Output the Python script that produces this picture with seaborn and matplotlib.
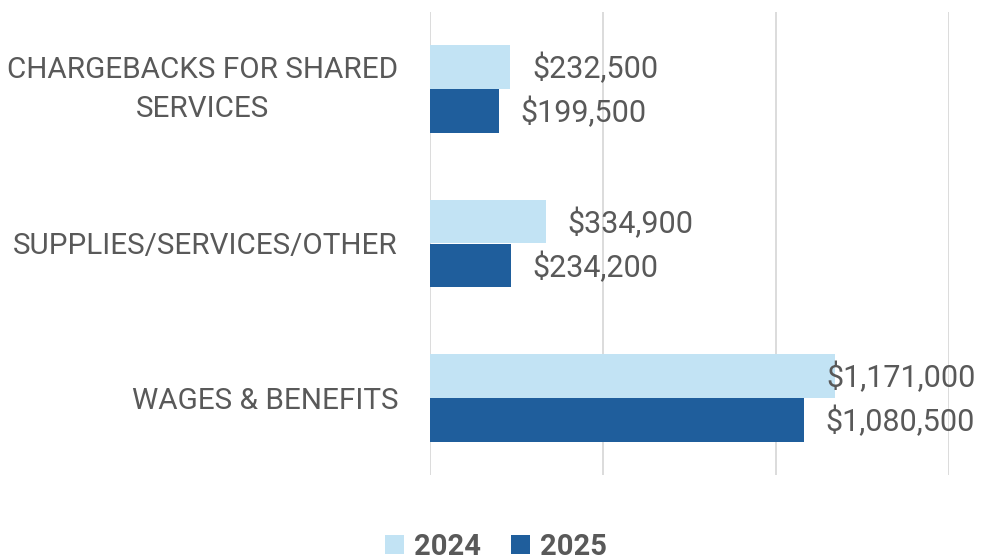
import matplotlib
matplotlib.use("Agg")
import matplotlib.pyplot as plt
import seaborn as sns
import pandas as pd
from matplotlib.patches import Patch

categories = ["CHARGEBACKS FOR SHARED\nSERVICES", "SUPPLIES/SERVICES/OTHER", "WAGES & BENEFITS"]
years = ["2024", "2025"]
values_2024 = [232500, 334900, 1171000]
values_2025 = [199500, 234200, 1080500]
colors = ["#C2E3F4", "#1F5E9C"]
text_color = "#595959"

df = pd.DataFrame({
    "category": categories * 2,
    "year": [years[0]] * 3 + [years[1]] * 3,
    "value": values_2024 + values_2025,
})

sns.set_theme(style="white")
plt.rcParams["font.family"] = ["Roboto", "DejaVu Sans"]

fig = plt.figure(figsize=(9.82, 5.6), dpi=100)
ax = fig.add_axes([430 / 982, 1 - 475 / 560, (949 - 430) / 982, (475 - 12) / 560])

sns.barplot(data=df, y="category", x="value", hue="year", orient="h",
            palette=colors, width=0.57, ax=ax, legend=False, saturation=1,
            linewidth=0, edgecolor="none")

ax.set_xlim(0, 1500000)
ax.set_ylim(2.5, -0.5)
ax.set_xticks([0, 500000, 1000000, 1500000])
ax.xaxis.grid(True, color="#D9D9D9", linewidth=1.3)
ax.set_axisbelow(True)
ax.set_xticklabels([])
ax.tick_params(axis="x", length=0)
ax.tick_params(axis="y", length=0, pad=23, labelsize=21.3, labelcolor=text_color)
for lbl in ax.get_yticklabels():
    lbl.set_multialignment("center")
    lbl.set_linespacing(1.5)
    if "\n" in lbl.get_text():
        lbl.set_verticalalignment("center")
for s in ax.spines.values():
    s.set_visible(False)
ax.set_xlabel("")
ax.set_ylabel("")

# value labels
max_start = 1144500
for container, vals in zip(ax.containers, [values_2024, values_2025]):
    for bar, v in zip(container, vals):
        y = bar.get_y() + bar.get_height() / 2
        x = v + 63000
        x = min(x, max_start)
        ax.text(x, y + 0.01, f"${v:,.0f}", va="center", ha="left",
                fontsize=22, color=text_color, clip_on=False)

handles = [Patch(facecolor=c, edgecolor="none") for c in colors]
leg = fig.legend(handles, years, loc="center", bbox_to_anchor=(496 / 982, 1 - 547 / 560),
                 ncol=2, frameon=False, handlelength=0.65, handleheight=0.65,
                 columnspacing=1.0, handletextpad=0.35,
                 prop={"size": 21, "weight": "bold"})
for t in leg.get_texts():
    t.set_color(text_color)

fig.savefig("out.png", dpi=100)
